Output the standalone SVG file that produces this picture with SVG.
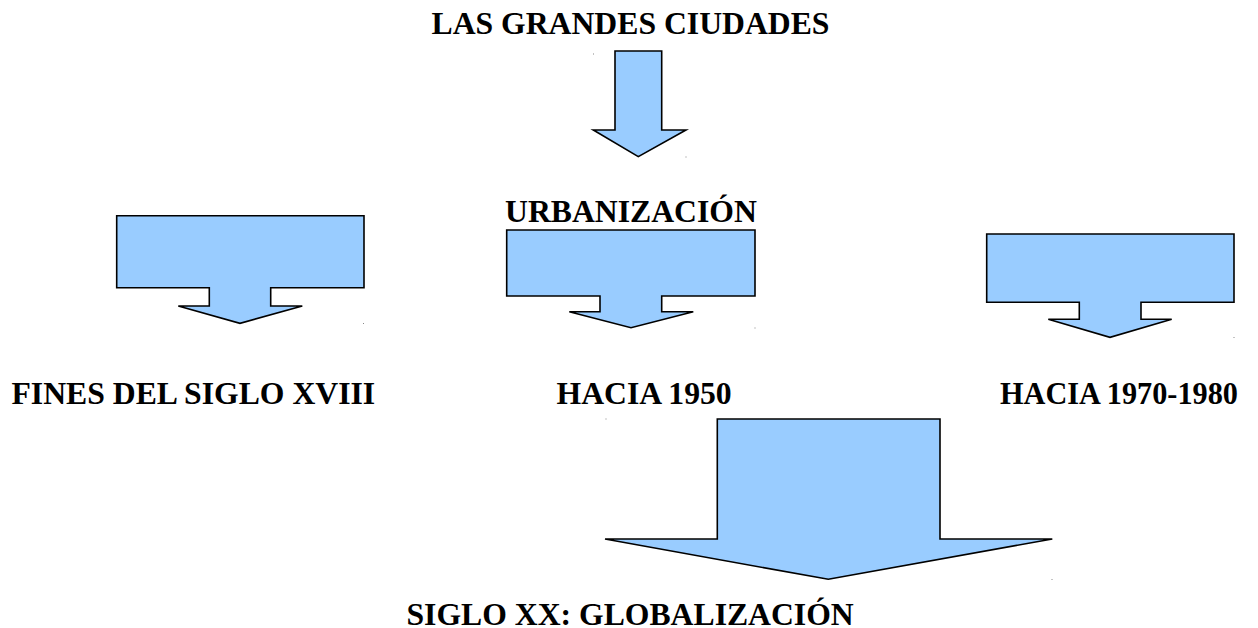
<svg xmlns="http://www.w3.org/2000/svg" width="1258" height="628" viewBox="0 0 1258 628">
<style>
.t{font-family:"Liberation Serif","Times New Roman",serif;font-weight:bold;font-size:31.7px;fill:#000}
.a{fill:#99ccff;stroke:#000;stroke-width:1.6;stroke-linejoin:miter}
.d{fill:#888}
</style>
<rect width="1258" height="628" fill="#fff"/>
<g id="n-grandes"><text class="t" x="431.5" y="34.3">LAS GRANDES CIUDADES</text></g>
<g id="n-urbanizacion"><text class="t" x="505" y="221.7">URBANIZACIÓN</text></g>
<g id="n-fines"><text class="t" x="11.5" y="404.3">FINES DEL SIGLO XVIII</text></g>
<g id="n-1950"><text class="t" x="556.5" y="404.3">HACIA 1950</text></g>
<g id="n-1970"><text class="t" x="1000" y="404.3" textLength="238" lengthAdjust="spacingAndGlyphs">HACIA 1970-1980</text></g>
<g id="n-siglo"><text class="t" x="406.5" y="625">SIGLO XX: GLOBALIZACIÓN</text></g>
<g id="connectors">
<path class="a" d="M615,51 L661.7,51 L661.7,130 L686,130 L638.3,156.7 L593.3,130 L615,130 Z"/>
<path class="a" d="M116.7,215.7 L364,215.7 L364,287.7 L270.7,287.7 L270.7,306 L302.3,306 L240,323.3 L178.3,306 L209.3,306 L209.3,287.7 L116.7,287.7 Z"/>
<path class="a" d="M506.7,230 L755,230 L755,296 L661.7,296 L661.7,311.7 L693.3,311.7 L631,327.7 L569.3,311.7 L600,311.7 L600,296 L506.7,296 Z"/>
<path class="a" d="M986.7,234 L1234,234 L1234,302.3 L1141,302.3 L1141,319.3 L1171.7,319.3 L1110,337.3 L1048.3,319.3 L1079.3,319.3 L1079.3,302.3 L986.7,302.3 Z"/>
<path class="a" d="M717.3,419 L940,419 L940,539 L1052.3,539 L828.3,579.3 L605,539 L717.3,539 Z"/>
</g>
<g id="marks">
<rect class="d" x="593" y="53.5" width="1" height="1"/>
<rect class="d" x="685.5" y="156.5" width="1" height="1"/>
<rect class="d" x="363" y="323" width="1" height="1"/>
<rect class="d" x="754.5" y="327.5" width="1" height="1"/>
<rect class="d" x="1233.5" y="337" width="1" height="1"/>
<rect class="d" x="605.5" y="418.5" width="1" height="1"/>
<rect class="d" x="1051.5" y="579" width="1" height="1"/>
</g>
</svg>
